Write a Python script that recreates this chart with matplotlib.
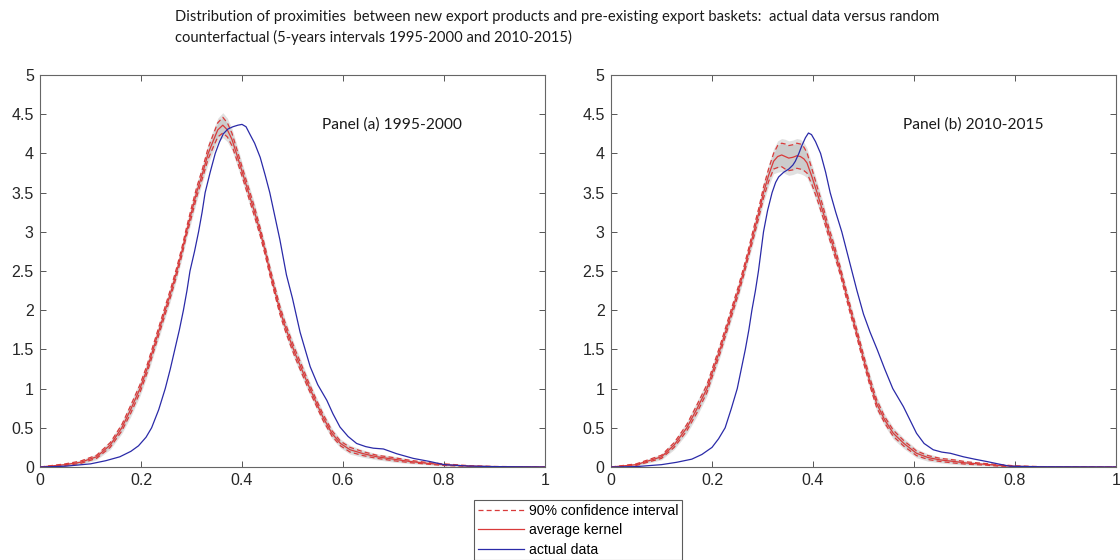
import matplotlib
matplotlib.use("Agg")
import matplotlib.pyplot as plt
import numpy as np
from matplotlib.lines import Line2D

# ---- data ----
# Panel (a) 1995-2000 : average kernel of random counterfactual and its 90% CI half-width
a_x_kernel = [0, 0.05, 0.08, 0.112, 0.139, 0.162, 0.18, 0.198, 0.212, 0.224,
              0.236, 0.248, 0.26, 0.271, 0.281, 0.29, 0.3, 0.31, 0.322, 0.333,
              0.343, 0.352, 0.362, 0.371, 0.38, 0.389, 0.401, 0.413, 0.425, 0.436,
              0.446, 0.455, 0.465, 0.475, 0.485, 0.495, 0.505, 0.518, 0.531, 0.545,
              0.56, 0.578, 0.595, 0.614, 0.64, 0.667, 0.7, 0.733, 0.77, 0.8,
              0.85, 0.9, 1.0]
a_kernel = [0, 0.03, 0.06, 0.13, 0.28, 0.5, 0.74, 1.0, 1.25, 1.5,
            1.75, 2.0, 2.25, 2.5, 2.75, 3.0, 3.25, 3.5, 3.75, 4.0,
            4.16, 4.3, 4.36, 4.3, 4.18, 4.0, 3.75, 3.5, 3.25, 3.0,
            2.75, 2.5, 2.25, 2.0, 1.8, 1.62, 1.45, 1.25, 1.05, 0.85,
            0.64, 0.43, 0.3, 0.22, 0.17, 0.13, 0.1, 0.07, 0.045, 0.03,
            0.012, 0.005, 0]
a_ci = [0, 0.01, 0.015, 0.02, 0.03, 0.04, 0.05, 0.05, 0.05, 0.05,
        0.05, 0.05, 0.05, 0.05, 0.05, 0.05, 0.06, 0.06, 0.06, 0.07,
        0.08, 0.09, 0.1, 0.09, 0.08, 0.07, 0.06, 0.06, 0.06, 0.05,
        0.05, 0.05, 0.05, 0.05, 0.05, 0.05, 0.05, 0.05, 0.045, 0.04,
        0.04, 0.035, 0.03, 0.03, 0.025, 0.02, 0.02, 0.015, 0.01, 0.01,
        0.005, 0.002, 0]
a_x_actual = [0, 0.05, 0.1, 0.13, 0.158, 0.18, 0.195, 0.21, 0.221, 0.235,
              0.248, 0.258, 0.267, 0.276, 0.284, 0.291, 0.297, 0.306, 0.314, 0.321,
              0.327, 0.337, 0.347, 0.355, 0.363, 0.372, 0.382, 0.392, 0.40, 0.408,
              0.416, 0.425, 0.436, 0.446, 0.455, 0.465, 0.475, 0.488, 0.5, 0.515,
              0.535, 0.55, 0.568, 0.58, 0.594, 0.61, 0.627, 0.645, 0.66, 0.68,
              0.706, 0.739, 0.772, 0.8, 0.85, 0.9, 1.0]
a_actual = [0, 0.01, 0.04, 0.08, 0.13, 0.2, 0.27, 0.38, 0.5, 0.73,
            1.0, 1.25, 1.5, 1.75, 2.0, 2.25, 2.5, 2.75, 3.0, 3.25,
            3.5, 3.76, 4.0, 4.14, 4.25, 4.31, 4.34, 4.36, 4.37, 4.34,
            4.24, 4.13, 3.95, 3.72, 3.5, 3.2, 2.9, 2.45, 2.15, 1.72,
            1.28, 1.05, 0.85, 0.68, 0.51, 0.39, 0.3, 0.26, 0.24, 0.23,
            0.17, 0.11, 0.07, 0.03, 0.012, 0.005, 0]

# Panel (b) 2010-2015
b_x_kernel = [0, 0.05, 0.1, 0.125, 0.15, 0.17, 0.19, 0.203, 0.216, 0.228,
              0.24, 0.252, 0.263, 0.273, 0.283, 0.293, 0.302, 0.312, 0.322, 0.33,
              0.338, 0.345, 0.352, 0.36, 0.368, 0.375, 0.382, 0.388, 0.398, 0.408,
              0.42, 0.431, 0.443, 0.454, 0.464, 0.474, 0.487, 0.5, 0.513, 0.526,
              0.542, 0.559, 0.58, 0.605, 0.628, 0.652, 0.68, 0.705, 0.74, 0.77,
              0.8, 0.85, 1.0]
b_kernel = [0, 0.03, 0.13, 0.28, 0.5, 0.74, 1.0, 1.25, 1.5, 1.75,
            2.0, 2.25, 2.5, 2.75, 3.0, 3.25, 3.5, 3.72, 3.9, 3.96,
            3.98, 3.96, 3.94, 3.95, 3.97, 3.96, 3.93, 3.88, 3.7, 3.5,
            3.25, 3.0, 2.75, 2.5, 2.25, 2.0, 1.7, 1.38, 1.08, 0.81,
            0.6, 0.43, 0.3, 0.175, 0.12, 0.09, 0.07, 0.05, 0.035, 0.02,
            0.01, 0.003, 0]
b_ci = [0, 0.01, 0.02, 0.03, 0.04, 0.05, 0.05, 0.05, 0.05, 0.05,
        0.05, 0.05, 0.05, 0.05, 0.06, 0.06, 0.07, 0.08, 0.1, 0.14,
        0.15, 0.16, 0.16, 0.16, 0.16, 0.16, 0.15, 0.13, 0.1, 0.08,
        0.07, 0.06, 0.06, 0.05, 0.05, 0.05, 0.05, 0.05, 0.05, 0.05,
        0.04, 0.04, 0.035, 0.03, 0.025, 0.02, 0.02, 0.015, 0.01, 0.01,
        0.005, 0.002, 0]
b_x_actual = [0, 0.05, 0.1, 0.13, 0.16, 0.18, 0.2, 0.213, 0.226, 0.238,
              0.25, 0.258, 0.266, 0.273, 0.279, 0.286, 0.292, 0.297, 0.302, 0.31,
              0.319, 0.326, 0.332, 0.342, 0.352, 0.36, 0.365, 0.372, 0.378, 0.385,
              0.391, 0.397, 0.405, 0.415, 0.425, 0.434, 0.445, 0.457, 0.467, 0.477,
              0.487, 0.5, 0.513, 0.527, 0.542, 0.558, 0.579, 0.592, 0.605, 0.62,
              0.638, 0.655, 0.672, 0.698, 0.72, 0.744, 0.77, 0.79, 0.85, 1.0]
b_actual = [0, 0.005, 0.03, 0.06, 0.1, 0.16, 0.25, 0.36, 0.5, 0.74,
            1.0, 1.25, 1.5, 1.75, 2.0, 2.25, 2.5, 2.75, 3.0, 3.27,
            3.5, 3.63, 3.7, 3.76, 3.8, 3.85, 3.9, 4.0, 4.1, 4.2,
            4.26, 4.24, 4.15, 4.0, 3.76, 3.5, 3.25, 3.0, 2.75, 2.5,
            2.25, 1.95, 1.72, 1.5, 1.25, 1.0, 0.77, 0.6, 0.43, 0.3,
            0.22, 0.19, 0.175, 0.13, 0.1, 0.07, 0.035, 0.01, 0.003, 0]

x_ticks = [0, 0.2, 0.4, 0.6, 0.8, 1]
x_ticklabels = ["0", "0.2", "0.4", "0.6", "0.8", "1"]
y_ticks = [0, 0.5, 1, 1.5, 2, 2.5, 3, 3.5, 4, 4.5, 5]
y_ticklabels = ["0", "0.5", "1", "1.5", "2", "2.5", "3", "3.5", "4", "4.5", "5"]

panel_titles = ["Panel (a) 1995-2000", "Panel (b) 2010-2015"]
title = ("Distribution of proximities  between new export products and pre-existing export baskets:  actual data versus random\n"
         "counterfactual (5-years intervals 1995-2000 and 2010-2015)")
legend_labels = ["90% confidence interval", "average kernel", "actual data"]

RED = "#d93a3a"
BLUE = "#2a2aa8"
AXC = "#555555"
TXT_FONT = ["Lato", "DejaVu Sans"]

fig = plt.figure(figsize=(11.2, 5.6), dpi=100)
axes = [fig.add_axes([40/1120, 1-467/560, 505/1120, 392/560]),
        fig.add_axes([611/1120, 1-467/560, 505/1120, 392/560])]

panels = [(a_x_kernel, a_kernel, a_ci, a_x_actual, a_actual, 0.558),
          (b_x_kernel, b_kernel, b_ci, b_x_actual, b_actual, 0.578)]

for ax, (xk, mean, ci, xb, actual, tx), ptitle in zip(axes, panels, panel_titles):
    xr = np.array(xk)
    m = np.array(mean)
    c = np.array(ci)
    band = np.minimum(c * 1.9, c + 0.06)
    ax.fill_between(xr, m - band, m + band, color="#bcbcbc", alpha=0.45, lw=0, zorder=1)
    ax.fill_between(xr, m - c, m + c, color="#a8a8a8", alpha=0.35, lw=0, zorder=1)
    ax.plot(xr, m + c, color=RED, lw=0.9, ls=(0, (4, 2.5)), zorder=3)
    ax.plot(xr, m - c, color=RED, lw=0.9, ls=(0, (4, 2.5)), zorder=3)
    ax.plot(xr, m, color=RED, lw=0.9, zorder=3)
    ax.plot(xb, actual, color=BLUE, lw=0.9, zorder=4)
    ax.set_xlim(0, 1)
    ax.set_ylim(0, 5)
    ax.set_xticks(x_ticks)
    ax.set_xticklabels(x_ticklabels)
    ax.set_yticks(y_ticks)
    ax.set_yticklabels(y_ticklabels)
    ax.tick_params(direction="in", top=True, right=True, length=4, width=0.7,
                   colors=AXC, labelcolor="#262626", labelsize=11.5, pad=4.5)
    for lab in ax.get_xticklabels() + ax.get_yticklabels():
        lab.set_fontfamily("Liberation Sans")
    for sp in ax.spines.values():
        sp.set_color("#666666")
        sp.set_linewidth(0.8)
    ax.text(tx, 4.37, ptitle, fontsize=11.2, family=TXT_FONT, color="#1a1a1a",
            va="center", ha="left")

fig.text(175/1120, 1-10/560, title, fontsize=10.6, family=TXT_FONT,
         color="#1a1a1a", va="top", ha="left", linespacing=1.5)

handles = [Line2D([], [], color=RED, lw=0.9, ls=(0, (4, 2.5))),
           Line2D([], [], color=RED, lw=0.9),
           Line2D([], [], color=BLUE, lw=0.9)]
leg = fig.legend(handles, legend_labels, loc="upper left",
                 bbox_to_anchor=(474/1120, 1-500/560), frameon=True, fancybox=False,
                 edgecolor="#333333", handlelength=3.3,
                 handletextpad=0.4, borderpad=0.25, labelspacing=0.4,
                 borderaxespad=0,
                 prop={"family": "Liberation Sans", "size": 10.1})
leg.get_frame().set_linewidth(0.8)

fig.savefig("out.png", dpi=100, facecolor="white")
